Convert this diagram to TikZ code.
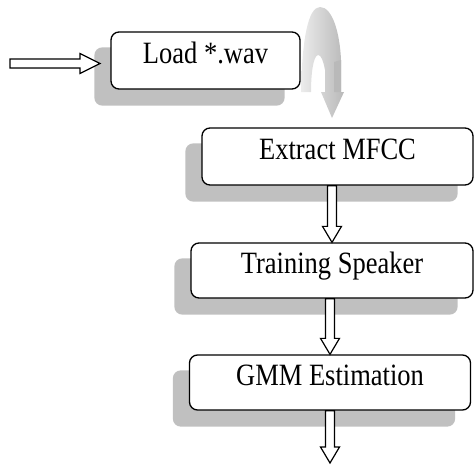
\documentclass[tikz,border=0pt]{standalone}
\usepackage{fontspec}
\usepackage{graphicx}
\setmainfont{Liberation Serif}
\usetikzlibrary{calc,backgrounds}
\definecolor{shadowgray}{HTML}{C0C0C0}
\definecolor{arrowshadow}{HTML}{8C8C8C}
\newcommand\tallertext[1]{\scalebox{1}[1.17]{#1}}
\tikzset{
  box/.style={draw=black, line width=1.3pt, rounded corners=8pt, fill=white,
    font=\fontsize{26.5}{30}\selectfont, inner sep=0pt,
    text height=0.8em, text depth=0.25em},
  boxshadow/.style={fill=shadowgray, rounded corners=8pt},
  blockarr/.style={draw=black, fill=white, line width=1.2pt, line join=miter},
  blockshadow/.style={fill=arrowshadow},
}
\newcommand\blockdownpath[2]{let \p1=(#1), \p2=(#2) in
  (\x2-4.5pt,\y1) -- (\x2+4.5pt,\y1) -- (\x2+4.5pt,\y2+16pt) -- (\x2+9.5pt,\y2+16pt)
  -- (\x2,\y2) -- (\x2-9.5pt,\y2+16pt) -- (\x2-4.5pt,\y2+16pt) -- cycle}
\newcommand\blockdown[2]{%
  \fill[blockshadow,shift={(2.5pt,-2.5pt)}] \blockdownpath{#1}{#2};
  \draw[blockarr] \blockdownpath{#1}{#2};}
\newcommand\blockrightpath[2]{let \p1=(#1), \p2=(#2) in
  (\x1,\y2+4.5pt) -- (\x2-20pt,\y2+4.5pt) -- (\x2-20pt,\y2+10pt) -- (\x2,\y2)
  -- (\x2-20pt,\y2-10pt) -- (\x2-20pt,\y2-4.5pt) -- (\x1,\y2-4.5pt) -- cycle}
\newcommand\blockright[2]{%
  \fill[blockshadow,shift={(2.5pt,-2.5pt)}] \blockrightpath{#1}{#2};
  \draw[blockarr] \blockrightpath{#1}{#2};}
\newcommand\boxshadow[1]{%
  \fill[boxshadow] ($(#1.south west)+(-16,16)$) rectangle ($(#1.north east)+(-16,16)$);}
\begin{document}
\begin{tikzpicture}[x=1pt,y=-1pt]
\useasboundingbox (0,0) rectangle (474,466);

\node[box, minimum width=189pt, minimum height=57pt] (l) at (205.5,60.5) {\tallertext{Load *.wav}};
\node[box, minimum width=271pt, minimum height=57pt] (e) at (337.5,156.5) {\tallertext{Extract MFCC}};
\node[box, minimum width=282pt, minimum height=55pt] (t) at (332,270.5) {\tallertext{Training Speaker}};
\node[box, minimum width=281pt, minimum height=55pt] (g) at (330,382.5) {\tallertext{GMM Estimation}};

\begin{pgfonlayer}{background}
  \boxshadow{l}
  \boxshadow{e}
  \boxshadow{t}
  \boxshadow{g}
\end{pgfonlayer}

\coordinate (in) at (10,63.5);
\coordinate (intip) at (100,63.5);
\coordinate (out) at (330,463);

\blockright{in}{intip}
\blockdown{e.south}{t.north}
\blockdown{t.south}{g.north}
\blockdown{g.south}{out}

% curved 3-D arrow from Load *.wav to Extract MFCC
\shade[left color=gray!15, right color=gray!55]
  (301,92) .. controls (302,40) and (308,7) .. (320,7)
  .. controls (333,7) and (340,35) .. (341,60) -- (341,92) -- (344,92)
  -- (332,118) -- (321,92) -- (325,92) -- (325,70)
  .. controls (323,60) and (321,55) .. (318,55)
  .. controls (313,56) and (311,75) .. (311,92) -- cycle;
\fill[gray!55] (334,62) -- (341,60) -- (341,92) -- (334,92) -- cycle;
\end{tikzpicture}
\end{document}
